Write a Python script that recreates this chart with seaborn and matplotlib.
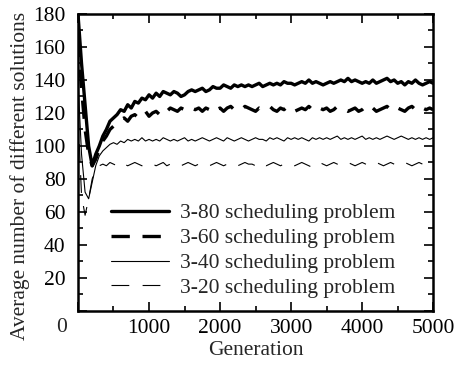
import numpy as np
import pandas as pd
import matplotlib
matplotlib.use("Agg")
import matplotlib.pyplot as plt
import seaborn as sns
from matplotlib.ticker import MultipleLocator

generation = list(range(0, 5001, 50))

s80 = [180, 150, 125, 100, 88, 95, 100, 106, 110, 115,
       117, 119, 122, 121, 125, 123, 127, 126, 129, 128,
       131, 129, 132, 130, 133, 132, 131, 133, 132, 130,
       131, 133, 134, 133, 134, 135, 133, 134, 136, 135,
       135, 137, 136, 135, 137, 136, 137, 136, 137, 136,
       137, 138, 136, 137, 138, 137, 138, 137, 139, 138,
       138, 137, 138, 139, 138, 140, 138, 139, 138, 137,
       138, 139, 138, 139, 140, 139, 141, 139, 140, 139,
       138, 139, 138, 140, 138, 139, 140, 141, 139, 140,
       138, 139, 137, 139, 138, 140, 138, 137, 138, 139,
       138]

s60 = [165, 135, 110, 95, 88, 92, 98, 103, 106, 110,
       112, 114, 116, 117, 115, 118, 119, 117, 119, 121,
       118, 120, 121, 119, 122, 121, 123, 122, 121, 123,
       122, 124, 123, 122, 123, 121, 123, 122, 124, 122,
       123, 121, 123, 124, 122, 123, 122, 124, 123, 122,
       121, 123, 122, 123, 124, 122, 121, 123, 122, 124,
       123, 121, 122, 123, 122, 124, 122, 121, 123, 122,
       123, 121, 122, 124, 123, 122, 121, 122, 123, 121,
       122, 124, 122, 123, 121, 122, 123, 124, 122, 121,
       123, 122, 121, 123, 124, 122, 121, 123, 122, 123,
       122]

s40 = [140, 95, 72, 68, 78, 88, 94, 97, 99, 101,
       102, 101, 103, 102, 104, 103, 104, 103, 105, 103,
       104, 103, 104, 103, 105, 104, 103, 104, 103, 104,
       105, 103, 104, 103, 104, 105, 104, 103, 104, 105,
       104, 103, 105, 104, 103, 104, 105, 104, 103, 104,
       105, 104, 104, 103, 105, 104, 105, 104, 103, 105,
       104, 105, 104, 105, 104, 103, 105, 104, 105, 104,
       105, 104, 105, 106, 104, 105, 104, 105, 104, 105,
       106, 104, 105, 104, 105, 104, 105, 106, 105, 104,
       105, 106, 105, 104, 105, 104, 105, 104, 105, 104,
       105]

s20 = [120, 70, 58, 68, 80, 86, 88, 89, 88, 90,
       89, 88, 90, 89, 88, 89, 90, 89, 88, 89,
       90, 89, 88, 89, 90, 88, 89, 90, 89, 88,
       89, 90, 89, 88, 89, 90, 89, 88, 89, 90,
       89, 88, 89, 90, 89, 88, 89, 90, 89, 89,
       88, 90, 89, 88, 89, 90, 89, 88, 89, 90,
       89, 88, 89, 90, 89, 88, 87, 89, 90, 89,
       88, 89, 90, 89, 88, 89, 90, 89, 88, 89,
       90, 89, 88, 89, 90, 89, 88, 89, 90, 89,
       88, 89, 90, 89, 88, 89, 90, 89, 88, 89,
       89]

labels = ["3-80 scheduling problem", "3-60 scheduling problem",
          "3-40 scheduling problem", "3-20 scheduling problem"]

sns.set_style("ticks")
plt.rcParams["font.family"] = ["Liberation Serif", "DejaVu Serif"]
plt.rcParams["font.size"] = 15.5

fig = plt.figure(figsize=(4.56, 3.68), dpi=100)
ax = fig.add_axes([0.171, 0.155, 0.779, 0.807])

styles = [
    dict(lw=2.4, ls="-"),
    dict(lw=2.4, ls=(0, (5.5, 3.8))),
    dict(lw=0.8, ls="-"),
    dict(lw=0.8, ls=(0, (16, 12))),
]
series = [s80, s60, s40, s20]
for vals, lab, st in zip(series, labels, styles):
    df = pd.DataFrame({"Generation": generation, "value": vals})
    sns.lineplot(data=df, x="Generation", y="value", ax=ax, color="black",
                 linewidth=st["lw"], linestyle=st["ls"], label=lab)

ax.set_xlim(0, 5000)
ax.set_ylim(0, 180)
xt = list(range(0, 5001, 1000))
ax.set_xticks(xt)
ax.set_xticklabels([""] + [str(v) for v in xt[1:]])
ax.xaxis.set_minor_locator(MultipleLocator(500))
yt = list(range(0, 181, 20))
ax.set_yticks(yt)
ax.set_yticklabels([""] + [str(v) for v in yt[1:]])
ax.yaxis.set_minor_locator(MultipleLocator(10))
ax.tick_params(which="both", direction="in", top=True, right=True,
               labelsize=15.5, width=1.2, colors="black")
ax.tick_params(axis="y", which="major", length=6.5, pad=9)
ax.tick_params(axis="x", which="major", length=6.5, pad=6)
ax.tick_params(which="minor", length=3.6)
for sp in ax.spines.values():
    sp.set_linewidth(1.8)
    sp.set_color("black")
# shared origin label, placed left-below the corner as in the reference
ax.annotate("0", xy=(0, 0), xycoords="axes fraction", xytext=(-16, -17),
            textcoords="offset pixels", ha="center", va="center", fontsize=15.5)
ax.set_xlabel("Generation", fontsize=15.5, labelpad=2)
ax.set_ylabel("Average number of different solutions", fontsize=15.5)
ax.yaxis.set_label_coords(-0.135, 0.455)

leg = ax.legend(loc="lower left", bbox_to_anchor=(0.068, 0.015), frameon=False,
                fontsize=15.5, handlelength=2.7, handletextpad=0.5,
                labelspacing=0.22, borderaxespad=0)

fig.savefig("out.png", dpi=100)
